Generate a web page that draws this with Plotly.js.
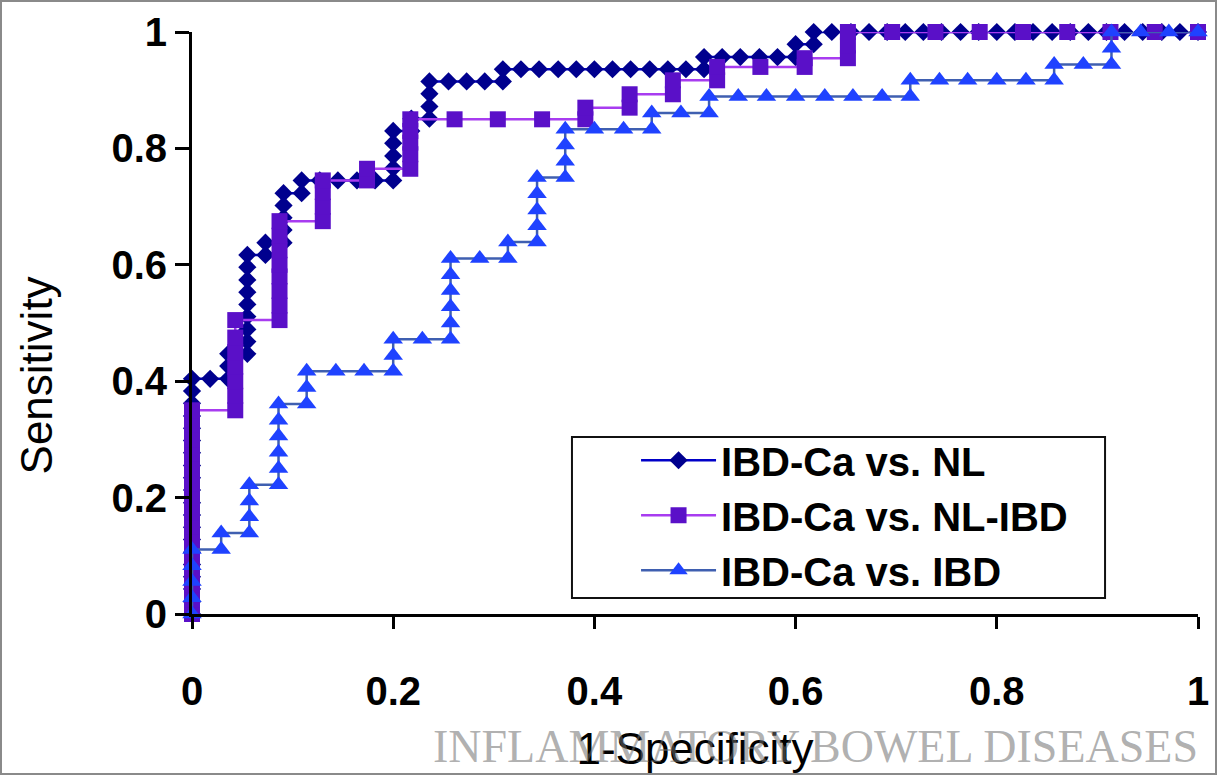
<!DOCTYPE html>
<html><head><meta charset="utf-8">
<script src="https://cdn.plot.ly/plotly-3.0.1.min.js"></script>
<style>
html,body{margin:0;padding:0;background:#fff;}
#wrap{position:relative;width:1217px;height:775px;}
#chart{width:1217px;height:775px;}
#frame{position:absolute;left:0;top:0;width:1217px;height:775px;box-sizing:border-box;border:2px solid #8a8a8a;pointer-events:none;}
</style></head><body>
<div id="wrap"><div id="chart"></div><div id="frame"></div></div>
<script>
// ---- data ----
const seriesNames = ['IBD-Ca vs. NL', 'IBD-Ca vs. NL-IBD', 'IBD-Ca vs. IBD'];

// IBD-Ca vs. NL (diamonds)
const nlX = [0,0,0,0,0,0,0,0,0,0,0,0,0,0,0,0,0,0,0,0,
  0.018,0.036,0.036,0.036,
  0.055,0.055,0.055,0.055,0.055,0.055,0.055,0.055,0.055,
  0.073,0.073,
  0.091,0.091,0.091,0.091,0.091,
  0.109,0.109,0.127,0.145,0.164,0.182,
  0.2,0.2,0.2,0.2,0.2,
  0.218,0.218,
  0.236,0.236,0.236,0.236,
  0.255,0.273,0.291,0.309,0.309,
  0.327,0.345,0.364,0.382,0.4,0.418,0.436,0.455,0.473,0.491,
  0.509,0.509,0.527,0.545,0.564,0.582,0.6,0.6,0.618,0.618,
  0.636,0.655,0.673,0.691,0.709,0.727,0.745,0.764,0.782,0.8,0.818,0.836,0.855,0.873,0.891,0.909,0.927,0.945,0.964,0.982,1];
const nlY = [0,0.021,0.043,0.064,0.085,0.106,0.128,0.149,0.17,0.191,0.213,0.234,0.255,0.277,0.298,0.319,0.34,0.362,0.383,0.404,
  0.404,0.404,0.426,0.447,
  0.447,0.468,0.489,0.511,0.532,0.553,0.574,0.596,0.617,
  0.617,0.638,
  0.638,0.66,0.681,0.702,0.723,
  0.723,0.745,0.745,0.745,0.745,0.745,
  0.745,0.766,0.787,0.809,0.83,
  0.83,0.851,
  0.851,0.872,0.894,0.915,
  0.915,0.915,0.915,0.915,0.936,
  0.936,0.936,0.936,0.936,0.936,0.936,0.936,0.936,0.936,0.936,
  0.936,0.957,0.957,0.957,0.957,0.957,0.957,0.979,0.979,1,
  1,1,1,1,1,1,1,1,1,1,1,1,1,1,1,1,1,1,1,1,1];

// IBD-Ca vs. NL-IBD (squares)
const nlibdX = [0,0,0,0,0,0,0,0,0,0,0,0,0,0,0,
  0.043,0.043,0.043,0.043,0.043,0.043,0.043,
  0.087,0.087,0.087,0.087,0.087,0.087,0.087,0.087,
  0.13,0.13,0.13,0.13,
  0.174,0.174,
  0.217,0.217,0.217,0.217,0.217,
  0.261,0.304,0.348,
  0.391,0.391,0.435,0.435,0.478,0.478,0.522,0.522,0.565,0.609,0.609,
  0.652,0.652,0.652,
  0.696,0.739,0.783,0.826,0.87,0.913,0.957,1];
const nlibdY = [0,0.025,0.05,0.075,0.1,0.125,0.15,0.175,0.2,0.225,0.25,0.275,0.3,0.325,0.35,
  0.35,0.375,0.4,0.425,0.45,0.475,0.505,
  0.505,0.53,0.555,0.58,0.6,0.625,0.65,0.675,
  0.675,0.7,0.725,0.745,
  0.745,0.765,
  0.765,0.79,0.81,0.83,0.85,
  0.85,0.85,0.85,
  0.85,0.87,0.87,0.893,0.893,0.917,0.917,0.94,0.94,0.94,0.955,
  0.955,0.977,1,
  1,1,1,1,1,1,1,1];

// IBD-Ca vs. IBD (triangles)
const ibdX = [0,0,0,0,0,
  0.029,0.029,
  0.057,0.057,0.057,0.057,
  0.086,0.086,0.086,0.086,0.086,0.086,
  0.114,0.114,0.114,
  0.143,0.171,
  0.2,0.2,0.2,
  0.229,
  0.257,0.257,0.257,0.257,0.257,0.257,
  0.286,0.314,0.314,
  0.343,0.343,0.343,0.343,0.343,
  0.371,0.371,0.371,0.371,
  0.4,0.429,0.457,0.457,0.486,0.514,0.514,
  0.543,0.571,0.6,0.629,0.657,0.686,
  0.714,0.714,0.743,0.771,0.8,0.829,0.857,0.857,0.886,
  0.914,0.914,0.914,0.943,0.971,1];
const ibdY = [0,0.028,0.056,0.083,0.111,
  0.111,0.139,
  0.139,0.167,0.194,0.222,
  0.222,0.25,0.278,0.306,0.333,0.361,
  0.361,0.389,0.417,
  0.417,0.417,
  0.417,0.444,0.472,
  0.472,
  0.472,0.5,0.528,0.556,0.583,0.611,
  0.611,0.611,0.639,
  0.639,0.667,0.694,0.722,0.75,
  0.75,0.778,0.806,0.833,
  0.833,0.833,0.833,0.861,0.861,0.861,0.889,
  0.889,0.889,0.889,0.889,0.889,0.889,
  0.889,0.917,0.917,0.917,0.917,0.917,0.917,0.944,0.944,
  0.944,0.972,1,1,1,1];

const tickVals = [0, 0.2, 0.4, 0.6, 0.8, 1];
const tickLabels = ['0', '0.2', '0.4', '0.6', '0.8', '1'];
const xTitle = '1-Specificity';
const yTitle = 'Sensitivity';
const watermark = 'INFLAMMATORY BOWEL DISEASES';

// ---- styling ----
const FONT = 'Liberation Sans, Arial, sans-serif';
const traces = [
  {x: nlX, y: nlY, name: seriesNames[0], type: 'scatter', mode: 'lines+markers', cliponaxis: false,
   line: {color: '#0000C8', width: 2.5},
   marker: {symbol: 'diamond', size: 14, color: '#00008E', line: {width: 0}}},
  {x: nlibdX, y: nlibdY, name: seriesNames[1], type: 'scatter', mode: 'lines+markers', cliponaxis: false,
   line: {color: '#A83CF0', width: 2.5},
   marker: {symbol: 'square', size: 16, color: '#5A10C8', line: {width: 0}}},
  {x: ibdX, y: ibdY, name: seriesNames[2], type: 'scatter', mode: 'lines+markers', cliponaxis: false,
   line: {color: '#3F5FB0', width: 2.5},
   marker: {symbol: 'triangle-up', size: 17, color: '#1F42FF', line: {width: 0}}}
];

const axisBase = {
  range: [0, 1], showgrid: false, zeroline: false, showline: true,
  linecolor: '#000', linewidth: 3, ticks: 'outside', tickwidth: 3, tickcolor: '#000',
  tickmode: 'array', tickvals: tickVals, ticktext: tickLabels, fixedrange: true,
  tickfont: {family: FONT, size: 40, color: '#000', weight: 700}
};

const layout = {
  width: 1217, height: 775,
  margin: {l: 192, r: 19, t: 32, b: 161},
  paper_bgcolor: '#fff', plot_bgcolor: '#fff',
  xaxis: Object.assign({}, axisBase, {ticklen: 12, ticklabelstandoff: 28,
    title: {text: xTitle, font: {family: FONT, size: 44, color: '#000'}, standoff: 22}}),
  yaxis: Object.assign({}, axisBase, {ticklen: 14,
    title: {text: '', font: {family: FONT, size: 44, color: '#000'}}}),
  showlegend: true,
  legend: {x: 0.4414, y: 0.32, xanchor: 'left', yanchor: 'top', bgcolor: 'rgba(0,0,0,0)',
    borderwidth: 0, itemwidth: 75, tracegroupgap: 0,
    font: {family: FONT, size: 40, color: '#000', weight: 700}},
  shapes: [{type: 'rect', xref: 'paper', yref: 'paper', x0: 0.3777, x1: 0.9076, y0: 0.0275, y1: 0.3041,
    line: {color: '#111', width: 2}, fillcolor: '#fff', layer: 'below'}],
  annotations: [
    {text: yTitle, xref: 'paper', yref: 'paper', x: -0.155, y: 0.41, textangle: -90,
     xanchor: 'center', yanchor: 'middle', showarrow: false,
     font: {family: FONT, size: 44, color: '#000'}},
    {text: watermark, xref: 'paper', yref: 'paper', x: 1.002, y: -0.228,
     xanchor: 'right', yanchor: 'middle', showarrow: false,
     font: {family: 'Liberation Serif, Times New Roman, serif', size: 46, color: 'rgba(110,110,110,0.55)'}}]
};

Plotly.newPlot('chart', traces, layout, {displayModeBar: false, staticPlot: true});
</script>
</body></html>
